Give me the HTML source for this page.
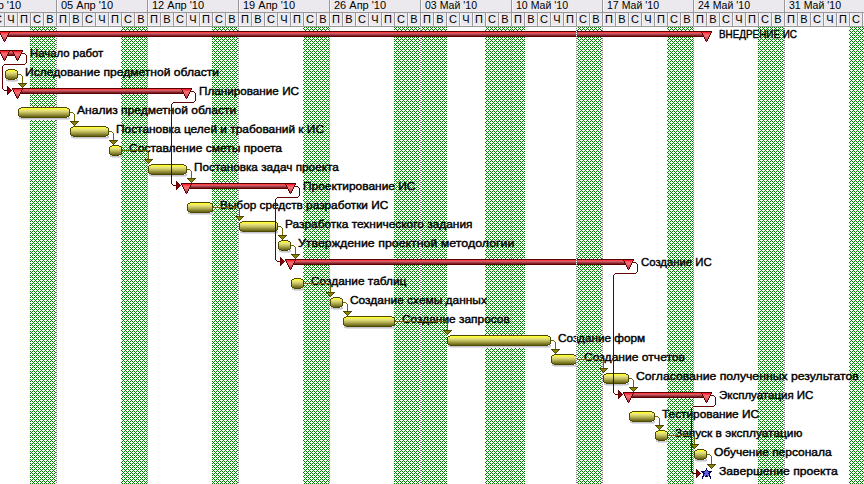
<!DOCTYPE html>
<html><head><meta charset="utf-8"><style>
html,body{margin:0;padding:0;background:#fff;overflow:hidden}
svg{display:block}
.h{font-family:"Liberation Sans",sans-serif;font-size:11px;fill:#000}
.l{font-family:"Liberation Sans",sans-serif;font-size:11px;fill:#000;stroke:#000;stroke-width:0.4px}
</style></head><body>
<svg width="864" height="484" viewBox="0 0 864 484">
<defs>
<pattern id="chk" width="4" height="4" patternUnits="userSpaceOnUse" x="0" y="0"><rect width="4" height="4" fill="#fff"/><rect x="3" y="0" width="1" height="1" fill="#008000"/><rect x="0" y="1" width="1" height="1" fill="#008000"/><rect x="2" y="1" width="1" height="1" fill="#008000"/><rect x="1" y="2" width="1" height="1" fill="#008000"/><rect x="0" y="3" width="1" height="1" fill="#008000"/><rect x="2" y="3" width="1" height="1" fill="#008000"/></pattern>
<pattern id="dotc" width="1" height="2" patternUnits="userSpaceOnUse" x="0" y="0"><rect width="1" height="2" fill="#fff"/><rect y="0" width="1" height="1" fill="#808080"/></pattern>
<pattern id="dotv" width="1" height="2" patternUnits="userSpaceOnUse" x="0" y="0"><rect width="1" height="2" fill="#fff"/><rect y="0" width="1" height="1" fill="#808080"/></pattern>
</defs>
<rect width="864" height="484" fill="#fff"/>
<g shape-rendering="crispEdges"><rect x="0" y="0" width="864" height="26" fill="#EBE9ED"/><rect x="0" y="12" width="864" height="1" fill="#989898"/><rect x="0" y="26" width="864" height="1" fill="#989898"/><rect x="0" y="25" width="864" height="1" fill="#F3F3F6"/><rect x="56" y="0" width="1" height="12" fill="#989898"/><rect x="57" y="0" width="1" height="11" fill="#F7F7F9"/><rect x="147" y="0" width="1" height="12" fill="#989898"/><rect x="148" y="0" width="1" height="11" fill="#F7F7F9"/><rect x="238" y="0" width="1" height="12" fill="#989898"/><rect x="239" y="0" width="1" height="11" fill="#F7F7F9"/><rect x="329" y="0" width="1" height="12" fill="#989898"/><rect x="330" y="0" width="1" height="11" fill="#F7F7F9"/><rect x="420" y="0" width="1" height="12" fill="#989898"/><rect x="421" y="0" width="1" height="11" fill="#F7F7F9"/><rect x="511" y="0" width="1" height="12" fill="#989898"/><rect x="512" y="0" width="1" height="11" fill="#F7F7F9"/><rect x="602" y="0" width="1" height="12" fill="#989898"/><rect x="603" y="0" width="1" height="11" fill="#F7F7F9"/><rect x="693" y="0" width="1" height="12" fill="#989898"/><rect x="694" y="0" width="1" height="11" fill="#F7F7F9"/><rect x="784" y="0" width="1" height="12" fill="#989898"/><rect x="785" y="0" width="1" height="11" fill="#F7F7F9"/><rect x="4" y="13" width="1" height="13" fill="#989898"/><rect x="5" y="13" width="1" height="12" fill="#F7F7F9"/><rect x="17" y="13" width="1" height="13" fill="#989898"/><rect x="18" y="13" width="1" height="12" fill="#F7F7F9"/><rect x="30" y="13" width="1" height="13" fill="#989898"/><rect x="31" y="13" width="1" height="12" fill="#F7F7F9"/><rect x="43" y="13" width="1" height="13" fill="#989898"/><rect x="44" y="13" width="1" height="12" fill="#F7F7F9"/><rect x="56" y="13" width="1" height="13" fill="#989898"/><rect x="57" y="13" width="1" height="12" fill="#F7F7F9"/><rect x="69" y="13" width="1" height="13" fill="#989898"/><rect x="70" y="13" width="1" height="12" fill="#F7F7F9"/><rect x="82" y="13" width="1" height="13" fill="#989898"/><rect x="83" y="13" width="1" height="12" fill="#F7F7F9"/><rect x="95" y="13" width="1" height="13" fill="#989898"/><rect x="96" y="13" width="1" height="12" fill="#F7F7F9"/><rect x="108" y="13" width="1" height="13" fill="#989898"/><rect x="109" y="13" width="1" height="12" fill="#F7F7F9"/><rect x="121" y="13" width="1" height="13" fill="#989898"/><rect x="122" y="13" width="1" height="12" fill="#F7F7F9"/><rect x="134" y="13" width="1" height="13" fill="#989898"/><rect x="135" y="13" width="1" height="12" fill="#F7F7F9"/><rect x="147" y="13" width="1" height="13" fill="#989898"/><rect x="148" y="13" width="1" height="12" fill="#F7F7F9"/><rect x="160" y="13" width="1" height="13" fill="#989898"/><rect x="161" y="13" width="1" height="12" fill="#F7F7F9"/><rect x="173" y="13" width="1" height="13" fill="#989898"/><rect x="174" y="13" width="1" height="12" fill="#F7F7F9"/><rect x="186" y="13" width="1" height="13" fill="#989898"/><rect x="187" y="13" width="1" height="12" fill="#F7F7F9"/><rect x="199" y="13" width="1" height="13" fill="#989898"/><rect x="200" y="13" width="1" height="12" fill="#F7F7F9"/><rect x="212" y="13" width="1" height="13" fill="#989898"/><rect x="213" y="13" width="1" height="12" fill="#F7F7F9"/><rect x="225" y="13" width="1" height="13" fill="#989898"/><rect x="226" y="13" width="1" height="12" fill="#F7F7F9"/><rect x="238" y="13" width="1" height="13" fill="#989898"/><rect x="239" y="13" width="1" height="12" fill="#F7F7F9"/><rect x="251" y="13" width="1" height="13" fill="#989898"/><rect x="252" y="13" width="1" height="12" fill="#F7F7F9"/><rect x="264" y="13" width="1" height="13" fill="#989898"/><rect x="265" y="13" width="1" height="12" fill="#F7F7F9"/><rect x="277" y="13" width="1" height="13" fill="#989898"/><rect x="278" y="13" width="1" height="12" fill="#F7F7F9"/><rect x="290" y="13" width="1" height="13" fill="#989898"/><rect x="291" y="13" width="1" height="12" fill="#F7F7F9"/><rect x="303" y="13" width="1" height="13" fill="#989898"/><rect x="304" y="13" width="1" height="12" fill="#F7F7F9"/><rect x="316" y="13" width="1" height="13" fill="#989898"/><rect x="317" y="13" width="1" height="12" fill="#F7F7F9"/><rect x="329" y="13" width="1" height="13" fill="#989898"/><rect x="330" y="13" width="1" height="12" fill="#F7F7F9"/><rect x="342" y="13" width="1" height="13" fill="#989898"/><rect x="343" y="13" width="1" height="12" fill="#F7F7F9"/><rect x="355" y="13" width="1" height="13" fill="#989898"/><rect x="356" y="13" width="1" height="12" fill="#F7F7F9"/><rect x="368" y="13" width="1" height="13" fill="#989898"/><rect x="369" y="13" width="1" height="12" fill="#F7F7F9"/><rect x="381" y="13" width="1" height="13" fill="#989898"/><rect x="382" y="13" width="1" height="12" fill="#F7F7F9"/><rect x="394" y="13" width="1" height="13" fill="#989898"/><rect x="395" y="13" width="1" height="12" fill="#F7F7F9"/><rect x="407" y="13" width="1" height="13" fill="#989898"/><rect x="408" y="13" width="1" height="12" fill="#F7F7F9"/><rect x="420" y="13" width="1" height="13" fill="#989898"/><rect x="421" y="13" width="1" height="12" fill="#F7F7F9"/><rect x="433" y="13" width="1" height="13" fill="#989898"/><rect x="434" y="13" width="1" height="12" fill="#F7F7F9"/><rect x="446" y="13" width="1" height="13" fill="#989898"/><rect x="447" y="13" width="1" height="12" fill="#F7F7F9"/><rect x="459" y="13" width="1" height="13" fill="#989898"/><rect x="460" y="13" width="1" height="12" fill="#F7F7F9"/><rect x="472" y="13" width="1" height="13" fill="#989898"/><rect x="473" y="13" width="1" height="12" fill="#F7F7F9"/><rect x="485" y="13" width="1" height="13" fill="#989898"/><rect x="486" y="13" width="1" height="12" fill="#F7F7F9"/><rect x="498" y="13" width="1" height="13" fill="#989898"/><rect x="499" y="13" width="1" height="12" fill="#F7F7F9"/><rect x="511" y="13" width="1" height="13" fill="#989898"/><rect x="512" y="13" width="1" height="12" fill="#F7F7F9"/><rect x="524" y="13" width="1" height="13" fill="#989898"/><rect x="525" y="13" width="1" height="12" fill="#F7F7F9"/><rect x="537" y="13" width="1" height="13" fill="#989898"/><rect x="538" y="13" width="1" height="12" fill="#F7F7F9"/><rect x="550" y="13" width="1" height="13" fill="#989898"/><rect x="551" y="13" width="1" height="12" fill="#F7F7F9"/><rect x="563" y="13" width="1" height="13" fill="#989898"/><rect x="564" y="13" width="1" height="12" fill="#F7F7F9"/><rect x="576" y="13" width="1" height="13" fill="#989898"/><rect x="577" y="13" width="1" height="12" fill="#F7F7F9"/><rect x="589" y="13" width="1" height="13" fill="#989898"/><rect x="590" y="13" width="1" height="12" fill="#F7F7F9"/><rect x="602" y="13" width="1" height="13" fill="#989898"/><rect x="603" y="13" width="1" height="12" fill="#F7F7F9"/><rect x="615" y="13" width="1" height="13" fill="#989898"/><rect x="616" y="13" width="1" height="12" fill="#F7F7F9"/><rect x="628" y="13" width="1" height="13" fill="#989898"/><rect x="629" y="13" width="1" height="12" fill="#F7F7F9"/><rect x="641" y="13" width="1" height="13" fill="#989898"/><rect x="642" y="13" width="1" height="12" fill="#F7F7F9"/><rect x="654" y="13" width="1" height="13" fill="#989898"/><rect x="655" y="13" width="1" height="12" fill="#F7F7F9"/><rect x="667" y="13" width="1" height="13" fill="#989898"/><rect x="668" y="13" width="1" height="12" fill="#F7F7F9"/><rect x="680" y="13" width="1" height="13" fill="#989898"/><rect x="681" y="13" width="1" height="12" fill="#F7F7F9"/><rect x="693" y="13" width="1" height="13" fill="#989898"/><rect x="694" y="13" width="1" height="12" fill="#F7F7F9"/><rect x="706" y="13" width="1" height="13" fill="#989898"/><rect x="707" y="13" width="1" height="12" fill="#F7F7F9"/><rect x="719" y="13" width="1" height="13" fill="#989898"/><rect x="720" y="13" width="1" height="12" fill="#F7F7F9"/><rect x="732" y="13" width="1" height="13" fill="#989898"/><rect x="733" y="13" width="1" height="12" fill="#F7F7F9"/><rect x="745" y="13" width="1" height="13" fill="#989898"/><rect x="746" y="13" width="1" height="12" fill="#F7F7F9"/><rect x="758" y="13" width="1" height="13" fill="#989898"/><rect x="759" y="13" width="1" height="12" fill="#F7F7F9"/><rect x="771" y="13" width="1" height="13" fill="#989898"/><rect x="772" y="13" width="1" height="12" fill="#F7F7F9"/><rect x="784" y="13" width="1" height="13" fill="#989898"/><rect x="785" y="13" width="1" height="12" fill="#F7F7F9"/><rect x="797" y="13" width="1" height="13" fill="#989898"/><rect x="798" y="13" width="1" height="12" fill="#F7F7F9"/><rect x="810" y="13" width="1" height="13" fill="#989898"/><rect x="811" y="13" width="1" height="12" fill="#F7F7F9"/><rect x="823" y="13" width="1" height="13" fill="#989898"/><rect x="824" y="13" width="1" height="12" fill="#F7F7F9"/><rect x="836" y="13" width="1" height="13" fill="#989898"/><rect x="837" y="13" width="1" height="12" fill="#F7F7F9"/><rect x="849" y="13" width="1" height="13" fill="#989898"/><rect x="850" y="13" width="1" height="12" fill="#F7F7F9"/><rect x="862" y="13" width="1" height="13" fill="#989898"/><rect x="863" y="13" width="1" height="12" fill="#F7F7F9"/><rect x="30" y="27" width="26" height="457" fill="url(#chk)"/><rect x="121" y="27" width="26" height="457" fill="url(#chk)"/><rect x="212" y="27" width="26" height="457" fill="url(#chk)"/><rect x="303" y="27" width="26" height="457" fill="url(#chk)"/><rect x="576" y="27" width="26" height="457" fill="url(#chk)"/><rect x="667" y="27" width="26" height="457" fill="url(#chk)"/><rect x="758" y="27" width="26" height="457" fill="url(#chk)"/><rect x="849" y="27" width="15" height="457" fill="url(#chk)"/><rect x="394" y="27" width="53" height="457" fill="url(#chk)"/><rect x="485" y="27" width="40" height="457" fill="url(#chk)"/><rect x="56" y="27" width="1" height="457" fill="url(#dotv)"/><rect x="147" y="27" width="1" height="457" fill="url(#dotv)"/><rect x="238" y="27" width="1" height="457" fill="url(#dotv)"/><rect x="329" y="27" width="1" height="457" fill="url(#dotv)"/><rect x="420" y="27" width="1" height="457" fill="url(#dotv)"/><rect x="511" y="27" width="1" height="457" fill="url(#dotv)"/><rect x="602" y="27" width="1" height="457" fill="url(#dotv)"/><rect x="693" y="27" width="1" height="457" fill="url(#dotv)"/><rect x="784" y="27" width="1" height="457" fill="url(#dotv)"/></g>
<g><text x="-33" y="9" class="h">29 Мар '10</text><text x="61" y="9" class="h">05 Апр '10</text><text x="152" y="9" class="h">12 Апр '10</text><text x="243" y="9" class="h">19 Апр '10</text><text x="334" y="9" class="h">26 Апр '10</text><text x="425" y="9" class="h" textLength="52" lengthAdjust="spacingAndGlyphs">03 Май '10</text><text x="516" y="9" class="h" textLength="52" lengthAdjust="spacingAndGlyphs">10 Май '10</text><text x="607" y="9" class="h" textLength="52" lengthAdjust="spacingAndGlyphs">17 Май '10</text><text x="698" y="9" class="h" textLength="52" lengthAdjust="spacingAndGlyphs">24 Май '10</text><text x="789" y="9" class="h" textLength="52" lengthAdjust="spacingAndGlyphs">31 Май '10</text><text x="-2" y="23" class="h" text-anchor="middle">С</text><text x="11" y="23" class="h" text-anchor="middle">Ч</text><text x="24" y="23" class="h" text-anchor="middle">П</text><text x="37" y="23" class="h" text-anchor="middle">С</text><text x="50" y="23" class="h" text-anchor="middle">В</text><text x="63" y="23" class="h" text-anchor="middle">П</text><text x="76" y="23" class="h" text-anchor="middle">В</text><text x="89" y="23" class="h" text-anchor="middle">С</text><text x="102" y="23" class="h" text-anchor="middle">Ч</text><text x="115" y="23" class="h" text-anchor="middle">П</text><text x="128" y="23" class="h" text-anchor="middle">С</text><text x="141" y="23" class="h" text-anchor="middle">В</text><text x="154" y="23" class="h" text-anchor="middle">П</text><text x="167" y="23" class="h" text-anchor="middle">В</text><text x="180" y="23" class="h" text-anchor="middle">С</text><text x="193" y="23" class="h" text-anchor="middle">Ч</text><text x="206" y="23" class="h" text-anchor="middle">П</text><text x="219" y="23" class="h" text-anchor="middle">С</text><text x="232" y="23" class="h" text-anchor="middle">В</text><text x="245" y="23" class="h" text-anchor="middle">П</text><text x="258" y="23" class="h" text-anchor="middle">В</text><text x="271" y="23" class="h" text-anchor="middle">С</text><text x="284" y="23" class="h" text-anchor="middle">Ч</text><text x="297" y="23" class="h" text-anchor="middle">П</text><text x="310" y="23" class="h" text-anchor="middle">С</text><text x="323" y="23" class="h" text-anchor="middle">В</text><text x="336" y="23" class="h" text-anchor="middle">П</text><text x="349" y="23" class="h" text-anchor="middle">В</text><text x="362" y="23" class="h" text-anchor="middle">С</text><text x="375" y="23" class="h" text-anchor="middle">Ч</text><text x="388" y="23" class="h" text-anchor="middle">П</text><text x="401" y="23" class="h" text-anchor="middle">С</text><text x="414" y="23" class="h" text-anchor="middle">В</text><text x="427" y="23" class="h" text-anchor="middle">П</text><text x="440" y="23" class="h" text-anchor="middle">В</text><text x="453" y="23" class="h" text-anchor="middle">С</text><text x="466" y="23" class="h" text-anchor="middle">Ч</text><text x="479" y="23" class="h" text-anchor="middle">П</text><text x="492" y="23" class="h" text-anchor="middle">С</text><text x="505" y="23" class="h" text-anchor="middle">В</text><text x="518" y="23" class="h" text-anchor="middle">П</text><text x="531" y="23" class="h" text-anchor="middle">В</text><text x="544" y="23" class="h" text-anchor="middle">С</text><text x="557" y="23" class="h" text-anchor="middle">Ч</text><text x="570" y="23" class="h" text-anchor="middle">П</text><text x="583" y="23" class="h" text-anchor="middle">С</text><text x="596" y="23" class="h" text-anchor="middle">В</text><text x="609" y="23" class="h" text-anchor="middle">П</text><text x="622" y="23" class="h" text-anchor="middle">В</text><text x="635" y="23" class="h" text-anchor="middle">С</text><text x="648" y="23" class="h" text-anchor="middle">Ч</text><text x="661" y="23" class="h" text-anchor="middle">П</text><text x="674" y="23" class="h" text-anchor="middle">С</text><text x="687" y="23" class="h" text-anchor="middle">В</text><text x="700" y="23" class="h" text-anchor="middle">П</text><text x="713" y="23" class="h" text-anchor="middle">В</text><text x="726" y="23" class="h" text-anchor="middle">С</text><text x="739" y="23" class="h" text-anchor="middle">Ч</text><text x="752" y="23" class="h" text-anchor="middle">П</text><text x="765" y="23" class="h" text-anchor="middle">С</text><text x="778" y="23" class="h" text-anchor="middle">В</text><text x="791" y="23" class="h" text-anchor="middle">П</text><text x="804" y="23" class="h" text-anchor="middle">В</text><text x="817" y="23" class="h" text-anchor="middle">С</text><text x="830" y="23" class="h" text-anchor="middle">Ч</text><text x="843" y="23" class="h" text-anchor="middle">П</text><text x="856" y="23" class="h" text-anchor="middle">С</text><text x="869" y="23" class="h" text-anchor="middle">В</text></g>
<g><text x="719" y="38" class="l" textLength="78" lengthAdjust="spacingAndGlyphs">ВНЕДРЕНИЕ ИС</text><text x="30" y="57" class="l" textLength="73.3" lengthAdjust="spacingAndGlyphs">Начало работ</text><text x="25" y="76" class="l" textLength="194" lengthAdjust="spacingAndGlyphs">Иследование предметной области</text><text x="199" y="95" class="l" textLength="100" lengthAdjust="spacingAndGlyphs">Планирование ИС</text><text x="77" y="114" class="l" textLength="159.25" lengthAdjust="spacingAndGlyphs">Анализ предметной области</text><text x="116" y="133" class="l" textLength="208" lengthAdjust="spacingAndGlyphs">Постановка целей и трабований к ИС</text><text x="129" y="152" class="l" textLength="153" lengthAdjust="spacingAndGlyphs">Составление сметы проета</text><text x="194" y="171" class="l" textLength="144.75" lengthAdjust="spacingAndGlyphs">Постановка задач проекта</text><text x="303" y="190" class="l" textLength="112.5" lengthAdjust="spacingAndGlyphs">Проектирование ИС</text><text x="220" y="209" class="l" textLength="168.25" lengthAdjust="spacingAndGlyphs">Выбор средств разработки ИС</text><text x="285" y="228" class="l" textLength="187.5" lengthAdjust="spacingAndGlyphs">Разработка технического задания</text><text x="298" y="247" class="l" textLength="216.4" lengthAdjust="spacingAndGlyphs">Утверждение проектной методологии</text><text x="641" y="266" class="l" textLength="70.7" lengthAdjust="spacingAndGlyphs">Создание ИС</text><text x="311" y="285" class="l" textLength="95.35" lengthAdjust="spacingAndGlyphs">Создание таблиц</text><text x="350" y="304" class="l" textLength="136.9" lengthAdjust="spacingAndGlyphs">Создание схемы данных</text><text x="402" y="323" class="l" textLength="107.8" lengthAdjust="spacingAndGlyphs">Создание запросов</text><text x="558" y="342" class="l" textLength="87.2" lengthAdjust="spacingAndGlyphs">Создание форм</text><text x="584" y="361" class="l" textLength="101" lengthAdjust="spacingAndGlyphs">Создание отчетов</text><text x="636" y="380" class="l" textLength="222.8" lengthAdjust="spacingAndGlyphs">Согласование полученных результатов</text><text x="719" y="399" class="l" textLength="94.4" lengthAdjust="spacingAndGlyphs">Эксплуатация ИС</text><text x="662" y="418" class="l" textLength="97" lengthAdjust="spacingAndGlyphs">Тестирование ИС</text><text x="675" y="437" class="l" textLength="127.4" lengthAdjust="spacingAndGlyphs">Запуск в эксплуатацию</text><text x="714" y="456" class="l" textLength="117.7" lengthAdjust="spacingAndGlyphs">Обучение персонала</text><text x="719" y="475" class="l" textLength="118.75" lengthAdjust="spacingAndGlyphs">Завершение проекта</text></g>
<g shape-rendering="crispEdges"><rect x="6" y="79" width="2" height="1" fill="#C6C6CE"/><rect x="16" y="79" width="2" height="1" fill="#C6C6CE"/><rect x="6" y="80" width="12" height="1" fill="#C6C6CE"/><rect x="8" y="81" width="9" height="1" fill="#DEDEE4"/><rect x="19" y="117" width="2" height="1" fill="#C6C6CE"/><rect x="68" y="117" width="2" height="1" fill="#C6C6CE"/><rect x="19" y="118" width="51" height="1" fill="#C6C6CE"/><rect x="21" y="119" width="48" height="1" fill="#DEDEE4"/><rect x="71" y="136" width="2" height="1" fill="#C6C6CE"/><rect x="107" y="136" width="2" height="1" fill="#C6C6CE"/><rect x="71" y="137" width="38" height="1" fill="#C6C6CE"/><rect x="73" y="138" width="35" height="1" fill="#DEDEE4"/><rect x="110" y="155" width="2" height="1" fill="#C6C6CE"/><rect x="120" y="155" width="2" height="1" fill="#C6C6CE"/><rect x="110" y="156" width="12" height="1" fill="#C6C6CE"/><rect x="112" y="157" width="9" height="1" fill="#DEDEE4"/><rect x="149" y="174" width="2" height="1" fill="#C6C6CE"/><rect x="185" y="174" width="2" height="1" fill="#C6C6CE"/><rect x="149" y="175" width="38" height="1" fill="#C6C6CE"/><rect x="151" y="176" width="35" height="1" fill="#DEDEE4"/><rect x="188" y="212" width="2" height="1" fill="#C6C6CE"/><rect x="211" y="212" width="2" height="1" fill="#C6C6CE"/><rect x="188" y="213" width="25" height="1" fill="#C6C6CE"/><rect x="190" y="214" width="22" height="1" fill="#DEDEE4"/><rect x="240" y="231" width="2" height="1" fill="#C6C6CE"/><rect x="276" y="231" width="2" height="1" fill="#C6C6CE"/><rect x="240" y="232" width="38" height="1" fill="#C6C6CE"/><rect x="242" y="233" width="35" height="1" fill="#DEDEE4"/><rect x="279" y="250" width="2" height="1" fill="#C6C6CE"/><rect x="289" y="250" width="2" height="1" fill="#C6C6CE"/><rect x="279" y="251" width="12" height="1" fill="#C6C6CE"/><rect x="281" y="252" width="9" height="1" fill="#DEDEE4"/><rect x="292" y="288" width="2" height="1" fill="#C6C6CE"/><rect x="302" y="288" width="2" height="1" fill="#C6C6CE"/><rect x="292" y="289" width="12" height="1" fill="#C6C6CE"/><rect x="294" y="290" width="9" height="1" fill="#DEDEE4"/><rect x="331" y="307" width="2" height="1" fill="#C6C6CE"/><rect x="341" y="307" width="2" height="1" fill="#C6C6CE"/><rect x="331" y="308" width="12" height="1" fill="#C6C6CE"/><rect x="333" y="309" width="9" height="1" fill="#DEDEE4"/><rect x="344" y="326" width="2" height="1" fill="#C6C6CE"/><rect x="393" y="326" width="2" height="1" fill="#C6C6CE"/><rect x="344" y="327" width="51" height="1" fill="#C6C6CE"/><rect x="346" y="328" width="48" height="1" fill="#DEDEE4"/><rect x="448" y="345" width="2" height="1" fill="#C6C6CE"/><rect x="549" y="345" width="2" height="1" fill="#C6C6CE"/><rect x="448" y="346" width="103" height="1" fill="#C6C6CE"/><rect x="450" y="347" width="100" height="1" fill="#DEDEE4"/><rect x="552" y="364" width="2" height="1" fill="#C6C6CE"/><rect x="575" y="364" width="2" height="1" fill="#C6C6CE"/><rect x="552" y="365" width="25" height="1" fill="#C6C6CE"/><rect x="554" y="366" width="22" height="1" fill="#DEDEE4"/><rect x="604" y="383" width="2" height="1" fill="#C6C6CE"/><rect x="627" y="383" width="2" height="1" fill="#C6C6CE"/><rect x="604" y="384" width="25" height="1" fill="#C6C6CE"/><rect x="606" y="385" width="22" height="1" fill="#DEDEE4"/><rect x="630" y="421" width="2" height="1" fill="#C6C6CE"/><rect x="653" y="421" width="2" height="1" fill="#C6C6CE"/><rect x="630" y="422" width="25" height="1" fill="#C6C6CE"/><rect x="632" y="423" width="22" height="1" fill="#DEDEE4"/><rect x="656" y="440" width="2" height="1" fill="#C6C6CE"/><rect x="666" y="440" width="2" height="1" fill="#C6C6CE"/><rect x="656" y="441" width="12" height="1" fill="#C6C6CE"/><rect x="658" y="442" width="9" height="1" fill="#DEDEE4"/><rect x="695" y="459" width="2" height="1" fill="#C6C6CE"/><rect x="705" y="459" width="2" height="1" fill="#C6C6CE"/><rect x="695" y="460" width="12" height="1" fill="#C6C6CE"/><rect x="697" y="461" width="9" height="1" fill="#DEDEE4"/><rect x="4" y="31" width="703" height="1" fill="#560000"/><rect x="4" y="32" width="703" height="1" fill="#FF4048"/><rect x="4" y="33" width="703" height="1" fill="#D05A62"/><rect x="4" y="34" width="703" height="1" fill="#A83E46"/><rect x="4" y="35" width="703" height="1" fill="#802028"/><rect x="4" y="36" width="703" height="1" fill="#560000"/><rect x="-1" y="31" width="11" height="1" fill="#560000"/><rect x="-1" y="32" width="1" height="1" fill="#560000"/><rect x="9" y="32" width="1" height="1" fill="#560000"/><rect x="0" y="32" width="9" height="1" fill="#FF2030"/><rect x="0" y="33" width="1" height="1" fill="#560000"/><rect x="8" y="33" width="1" height="1" fill="#560000"/><rect x="1" y="33" width="7" height="1" fill="#FF4452"/><rect x="0" y="34" width="1" height="1" fill="#560000"/><rect x="8" y="34" width="1" height="1" fill="#560000"/><rect x="1" y="34" width="7" height="1" fill="#F86068"/><rect x="1" y="35" width="1" height="1" fill="#560000"/><rect x="7" y="35" width="1" height="1" fill="#560000"/><rect x="2" y="35" width="5" height="1" fill="#F07078"/><rect x="1" y="36" width="1" height="1" fill="#560000"/><rect x="7" y="36" width="1" height="1" fill="#560000"/><rect x="2" y="36" width="5" height="1" fill="#E86870"/><rect x="2" y="37" width="1" height="1" fill="#560000"/><rect x="6" y="37" width="1" height="1" fill="#560000"/><rect x="3" y="37" width="3" height="1" fill="#DC5C66"/><rect x="2" y="38" width="1" height="1" fill="#560000"/><rect x="6" y="38" width="1" height="1" fill="#560000"/><rect x="3" y="38" width="3" height="1" fill="#D0525E"/><rect x="3" y="39" width="1" height="1" fill="#560000"/><rect x="5" y="39" width="1" height="1" fill="#560000"/><rect x="4" y="39" width="1" height="1" fill="#C04452"/><rect x="3" y="40" width="1" height="1" fill="#560000"/><rect x="5" y="40" width="1" height="1" fill="#560000"/><rect x="4" y="40" width="1" height="1" fill="#B03848"/><rect x="4" y="41" width="1" height="1" fill="#560000"/><rect x="701" y="31" width="11" height="1" fill="#560000"/><rect x="701" y="32" width="1" height="1" fill="#560000"/><rect x="711" y="32" width="1" height="1" fill="#560000"/><rect x="702" y="32" width="9" height="1" fill="#FF2030"/><rect x="702" y="33" width="1" height="1" fill="#560000"/><rect x="710" y="33" width="1" height="1" fill="#560000"/><rect x="703" y="33" width="7" height="1" fill="#FF4452"/><rect x="702" y="34" width="1" height="1" fill="#560000"/><rect x="710" y="34" width="1" height="1" fill="#560000"/><rect x="703" y="34" width="7" height="1" fill="#F86068"/><rect x="703" y="35" width="1" height="1" fill="#560000"/><rect x="709" y="35" width="1" height="1" fill="#560000"/><rect x="704" y="35" width="5" height="1" fill="#F07078"/><rect x="703" y="36" width="1" height="1" fill="#560000"/><rect x="709" y="36" width="1" height="1" fill="#560000"/><rect x="704" y="36" width="5" height="1" fill="#E86870"/><rect x="704" y="37" width="1" height="1" fill="#560000"/><rect x="708" y="37" width="1" height="1" fill="#560000"/><rect x="705" y="37" width="3" height="1" fill="#DC5C66"/><rect x="704" y="38" width="1" height="1" fill="#560000"/><rect x="708" y="38" width="1" height="1" fill="#560000"/><rect x="705" y="38" width="3" height="1" fill="#D0525E"/><rect x="705" y="39" width="1" height="1" fill="#560000"/><rect x="707" y="39" width="1" height="1" fill="#560000"/><rect x="706" y="39" width="1" height="1" fill="#C04452"/><rect x="705" y="40" width="1" height="1" fill="#560000"/><rect x="707" y="40" width="1" height="1" fill="#560000"/><rect x="706" y="40" width="1" height="1" fill="#B03848"/><rect x="706" y="41" width="1" height="1" fill="#560000"/><rect x="4" y="50" width="14" height="1" fill="#560000"/><rect x="4" y="51" width="14" height="1" fill="#FF4048"/><rect x="4" y="52" width="14" height="1" fill="#D05A62"/><rect x="4" y="53" width="14" height="1" fill="#A83E46"/><rect x="4" y="54" width="14" height="1" fill="#802028"/><rect x="4" y="55" width="14" height="1" fill="#560000"/><rect x="-1" y="50" width="11" height="1" fill="#560000"/><rect x="-1" y="51" width="1" height="1" fill="#560000"/><rect x="9" y="51" width="1" height="1" fill="#560000"/><rect x="0" y="51" width="9" height="1" fill="#FF2030"/><rect x="0" y="52" width="1" height="1" fill="#560000"/><rect x="8" y="52" width="1" height="1" fill="#560000"/><rect x="1" y="52" width="7" height="1" fill="#FF4452"/><rect x="0" y="53" width="1" height="1" fill="#560000"/><rect x="8" y="53" width="1" height="1" fill="#560000"/><rect x="1" y="53" width="7" height="1" fill="#F86068"/><rect x="1" y="54" width="1" height="1" fill="#560000"/><rect x="7" y="54" width="1" height="1" fill="#560000"/><rect x="2" y="54" width="5" height="1" fill="#F07078"/><rect x="1" y="55" width="1" height="1" fill="#560000"/><rect x="7" y="55" width="1" height="1" fill="#560000"/><rect x="2" y="55" width="5" height="1" fill="#E86870"/><rect x="2" y="56" width="1" height="1" fill="#560000"/><rect x="6" y="56" width="1" height="1" fill="#560000"/><rect x="3" y="56" width="3" height="1" fill="#DC5C66"/><rect x="2" y="57" width="1" height="1" fill="#560000"/><rect x="6" y="57" width="1" height="1" fill="#560000"/><rect x="3" y="57" width="3" height="1" fill="#D0525E"/><rect x="3" y="58" width="1" height="1" fill="#560000"/><rect x="5" y="58" width="1" height="1" fill="#560000"/><rect x="4" y="58" width="1" height="1" fill="#C04452"/><rect x="3" y="59" width="1" height="1" fill="#560000"/><rect x="5" y="59" width="1" height="1" fill="#560000"/><rect x="4" y="59" width="1" height="1" fill="#B03848"/><rect x="4" y="60" width="1" height="1" fill="#560000"/><rect x="12" y="50" width="11" height="1" fill="#560000"/><rect x="12" y="51" width="1" height="1" fill="#560000"/><rect x="22" y="51" width="1" height="1" fill="#560000"/><rect x="13" y="51" width="9" height="1" fill="#FF2030"/><rect x="13" y="52" width="1" height="1" fill="#560000"/><rect x="21" y="52" width="1" height="1" fill="#560000"/><rect x="14" y="52" width="7" height="1" fill="#FF4452"/><rect x="13" y="53" width="1" height="1" fill="#560000"/><rect x="21" y="53" width="1" height="1" fill="#560000"/><rect x="14" y="53" width="7" height="1" fill="#F86068"/><rect x="14" y="54" width="1" height="1" fill="#560000"/><rect x="20" y="54" width="1" height="1" fill="#560000"/><rect x="15" y="54" width="5" height="1" fill="#F07078"/><rect x="14" y="55" width="1" height="1" fill="#560000"/><rect x="20" y="55" width="1" height="1" fill="#560000"/><rect x="15" y="55" width="5" height="1" fill="#E86870"/><rect x="15" y="56" width="1" height="1" fill="#560000"/><rect x="19" y="56" width="1" height="1" fill="#560000"/><rect x="16" y="56" width="3" height="1" fill="#DC5C66"/><rect x="15" y="57" width="1" height="1" fill="#560000"/><rect x="19" y="57" width="1" height="1" fill="#560000"/><rect x="16" y="57" width="3" height="1" fill="#D0525E"/><rect x="16" y="58" width="1" height="1" fill="#560000"/><rect x="18" y="58" width="1" height="1" fill="#560000"/><rect x="17" y="58" width="1" height="1" fill="#C04452"/><rect x="16" y="59" width="1" height="1" fill="#560000"/><rect x="18" y="59" width="1" height="1" fill="#560000"/><rect x="17" y="59" width="1" height="1" fill="#B03848"/><rect x="17" y="60" width="1" height="1" fill="#560000"/><rect x="8" y="69" width="7" height="1" fill="#4C4800"/><rect x="6" y="70" width="2" height="1" fill="#4C4800"/><rect x="15" y="70" width="2" height="1" fill="#4C4800"/><rect x="8" y="70" width="7" height="1" fill="#FFFF33"/><rect x="5" y="71" width="1" height="7" fill="#4C4800"/><rect x="6" y="71" width="11" height="1" fill="#F2EE58"/><rect x="6" y="72" width="11" height="1" fill="#E4E07A"/><rect x="6" y="73" width="11" height="1" fill="#D6D270"/><rect x="6" y="74" width="11" height="1" fill="#C4C060"/><rect x="6" y="75" width="11" height="1" fill="#B0AC50"/><rect x="6" y="76" width="11" height="1" fill="#9A9640"/><rect x="6" y="77" width="11" height="1" fill="#848030"/><rect x="17" y="71" width="1" height="7" fill="#4C4800"/><rect x="6" y="78" width="2" height="1" fill="#4C4800"/><rect x="15" y="78" width="2" height="1" fill="#4C4800"/><rect x="8" y="78" width="7" height="1" fill="#6E6A1C"/><rect x="8" y="79" width="7" height="1" fill="#4C4800"/><rect x="17" y="88" width="170" height="1" fill="#560000"/><rect x="17" y="89" width="170" height="1" fill="#FF4048"/><rect x="17" y="90" width="170" height="1" fill="#D05A62"/><rect x="17" y="91" width="170" height="1" fill="#A83E46"/><rect x="17" y="92" width="170" height="1" fill="#802028"/><rect x="17" y="93" width="170" height="1" fill="#560000"/><rect x="12" y="88" width="11" height="1" fill="#560000"/><rect x="12" y="89" width="1" height="1" fill="#560000"/><rect x="22" y="89" width="1" height="1" fill="#560000"/><rect x="13" y="89" width="9" height="1" fill="#FF2030"/><rect x="13" y="90" width="1" height="1" fill="#560000"/><rect x="21" y="90" width="1" height="1" fill="#560000"/><rect x="14" y="90" width="7" height="1" fill="#FF4452"/><rect x="13" y="91" width="1" height="1" fill="#560000"/><rect x="21" y="91" width="1" height="1" fill="#560000"/><rect x="14" y="91" width="7" height="1" fill="#F86068"/><rect x="14" y="92" width="1" height="1" fill="#560000"/><rect x="20" y="92" width="1" height="1" fill="#560000"/><rect x="15" y="92" width="5" height="1" fill="#F07078"/><rect x="14" y="93" width="1" height="1" fill="#560000"/><rect x="20" y="93" width="1" height="1" fill="#560000"/><rect x="15" y="93" width="5" height="1" fill="#E86870"/><rect x="15" y="94" width="1" height="1" fill="#560000"/><rect x="19" y="94" width="1" height="1" fill="#560000"/><rect x="16" y="94" width="3" height="1" fill="#DC5C66"/><rect x="15" y="95" width="1" height="1" fill="#560000"/><rect x="19" y="95" width="1" height="1" fill="#560000"/><rect x="16" y="95" width="3" height="1" fill="#D0525E"/><rect x="16" y="96" width="1" height="1" fill="#560000"/><rect x="18" y="96" width="1" height="1" fill="#560000"/><rect x="17" y="96" width="1" height="1" fill="#C04452"/><rect x="16" y="97" width="1" height="1" fill="#560000"/><rect x="18" y="97" width="1" height="1" fill="#560000"/><rect x="17" y="97" width="1" height="1" fill="#B03848"/><rect x="17" y="98" width="1" height="1" fill="#560000"/><rect x="181" y="88" width="11" height="1" fill="#560000"/><rect x="181" y="89" width="1" height="1" fill="#560000"/><rect x="191" y="89" width="1" height="1" fill="#560000"/><rect x="182" y="89" width="9" height="1" fill="#FF2030"/><rect x="182" y="90" width="1" height="1" fill="#560000"/><rect x="190" y="90" width="1" height="1" fill="#560000"/><rect x="183" y="90" width="7" height="1" fill="#FF4452"/><rect x="182" y="91" width="1" height="1" fill="#560000"/><rect x="190" y="91" width="1" height="1" fill="#560000"/><rect x="183" y="91" width="7" height="1" fill="#F86068"/><rect x="183" y="92" width="1" height="1" fill="#560000"/><rect x="189" y="92" width="1" height="1" fill="#560000"/><rect x="184" y="92" width="5" height="1" fill="#F07078"/><rect x="183" y="93" width="1" height="1" fill="#560000"/><rect x="189" y="93" width="1" height="1" fill="#560000"/><rect x="184" y="93" width="5" height="1" fill="#E86870"/><rect x="184" y="94" width="1" height="1" fill="#560000"/><rect x="188" y="94" width="1" height="1" fill="#560000"/><rect x="185" y="94" width="3" height="1" fill="#DC5C66"/><rect x="184" y="95" width="1" height="1" fill="#560000"/><rect x="188" y="95" width="1" height="1" fill="#560000"/><rect x="185" y="95" width="3" height="1" fill="#D0525E"/><rect x="185" y="96" width="1" height="1" fill="#560000"/><rect x="187" y="96" width="1" height="1" fill="#560000"/><rect x="186" y="96" width="1" height="1" fill="#C04452"/><rect x="185" y="97" width="1" height="1" fill="#560000"/><rect x="187" y="97" width="1" height="1" fill="#560000"/><rect x="186" y="97" width="1" height="1" fill="#B03848"/><rect x="186" y="98" width="1" height="1" fill="#560000"/><rect x="21" y="107" width="46" height="1" fill="#4C4800"/><rect x="19" y="108" width="2" height="1" fill="#4C4800"/><rect x="67" y="108" width="2" height="1" fill="#4C4800"/><rect x="21" y="108" width="46" height="1" fill="#FFFF33"/><rect x="18" y="109" width="1" height="7" fill="#4C4800"/><rect x="19" y="109" width="50" height="1" fill="#F2EE58"/><rect x="19" y="110" width="50" height="1" fill="#E4E07A"/><rect x="19" y="111" width="50" height="1" fill="#D6D270"/><rect x="19" y="112" width="50" height="1" fill="#C4C060"/><rect x="19" y="113" width="50" height="1" fill="#B0AC50"/><rect x="19" y="114" width="50" height="1" fill="#9A9640"/><rect x="19" y="115" width="50" height="1" fill="#848030"/><rect x="69" y="109" width="1" height="7" fill="#4C4800"/><rect x="19" y="116" width="2" height="1" fill="#4C4800"/><rect x="67" y="116" width="2" height="1" fill="#4C4800"/><rect x="21" y="116" width="46" height="1" fill="#6E6A1C"/><rect x="21" y="117" width="46" height="1" fill="#4C4800"/><rect x="73" y="126" width="33" height="1" fill="#4C4800"/><rect x="71" y="127" width="2" height="1" fill="#4C4800"/><rect x="106" y="127" width="2" height="1" fill="#4C4800"/><rect x="73" y="127" width="33" height="1" fill="#FFFF33"/><rect x="70" y="128" width="1" height="7" fill="#4C4800"/><rect x="71" y="128" width="37" height="1" fill="#F2EE58"/><rect x="71" y="129" width="37" height="1" fill="#E4E07A"/><rect x="71" y="130" width="37" height="1" fill="#D6D270"/><rect x="71" y="131" width="37" height="1" fill="#C4C060"/><rect x="71" y="132" width="37" height="1" fill="#B0AC50"/><rect x="71" y="133" width="37" height="1" fill="#9A9640"/><rect x="71" y="134" width="37" height="1" fill="#848030"/><rect x="108" y="128" width="1" height="7" fill="#4C4800"/><rect x="71" y="135" width="2" height="1" fill="#4C4800"/><rect x="106" y="135" width="2" height="1" fill="#4C4800"/><rect x="73" y="135" width="33" height="1" fill="#6E6A1C"/><rect x="73" y="136" width="33" height="1" fill="#4C4800"/><rect x="112" y="145" width="7" height="1" fill="#4C4800"/><rect x="110" y="146" width="2" height="1" fill="#4C4800"/><rect x="119" y="146" width="2" height="1" fill="#4C4800"/><rect x="112" y="146" width="7" height="1" fill="#FFFF33"/><rect x="109" y="147" width="1" height="7" fill="#4C4800"/><rect x="110" y="147" width="11" height="1" fill="#F2EE58"/><rect x="110" y="148" width="11" height="1" fill="#E4E07A"/><rect x="110" y="149" width="11" height="1" fill="#D6D270"/><rect x="110" y="150" width="11" height="1" fill="#C4C060"/><rect x="110" y="151" width="11" height="1" fill="#B0AC50"/><rect x="110" y="152" width="11" height="1" fill="#9A9640"/><rect x="110" y="153" width="11" height="1" fill="#848030"/><rect x="121" y="147" width="1" height="7" fill="#4C4800"/><rect x="110" y="154" width="2" height="1" fill="#4C4800"/><rect x="119" y="154" width="2" height="1" fill="#4C4800"/><rect x="112" y="154" width="7" height="1" fill="#6E6A1C"/><rect x="112" y="155" width="7" height="1" fill="#4C4800"/><rect x="151" y="164" width="33" height="1" fill="#4C4800"/><rect x="149" y="165" width="2" height="1" fill="#4C4800"/><rect x="184" y="165" width="2" height="1" fill="#4C4800"/><rect x="151" y="165" width="33" height="1" fill="#FFFF33"/><rect x="148" y="166" width="1" height="7" fill="#4C4800"/><rect x="149" y="166" width="37" height="1" fill="#F2EE58"/><rect x="149" y="167" width="37" height="1" fill="#E4E07A"/><rect x="149" y="168" width="37" height="1" fill="#D6D270"/><rect x="149" y="169" width="37" height="1" fill="#C4C060"/><rect x="149" y="170" width="37" height="1" fill="#B0AC50"/><rect x="149" y="171" width="37" height="1" fill="#9A9640"/><rect x="149" y="172" width="37" height="1" fill="#848030"/><rect x="186" y="166" width="1" height="7" fill="#4C4800"/><rect x="149" y="173" width="2" height="1" fill="#4C4800"/><rect x="184" y="173" width="2" height="1" fill="#4C4800"/><rect x="151" y="173" width="33" height="1" fill="#6E6A1C"/><rect x="151" y="174" width="33" height="1" fill="#4C4800"/><rect x="186" y="183" width="105" height="1" fill="#560000"/><rect x="186" y="184" width="105" height="1" fill="#FF4048"/><rect x="186" y="185" width="105" height="1" fill="#D05A62"/><rect x="186" y="186" width="105" height="1" fill="#A83E46"/><rect x="186" y="187" width="105" height="1" fill="#802028"/><rect x="186" y="188" width="105" height="1" fill="#560000"/><rect x="181" y="183" width="11" height="1" fill="#560000"/><rect x="181" y="184" width="1" height="1" fill="#560000"/><rect x="191" y="184" width="1" height="1" fill="#560000"/><rect x="182" y="184" width="9" height="1" fill="#FF2030"/><rect x="182" y="185" width="1" height="1" fill="#560000"/><rect x="190" y="185" width="1" height="1" fill="#560000"/><rect x="183" y="185" width="7" height="1" fill="#FF4452"/><rect x="182" y="186" width="1" height="1" fill="#560000"/><rect x="190" y="186" width="1" height="1" fill="#560000"/><rect x="183" y="186" width="7" height="1" fill="#F86068"/><rect x="183" y="187" width="1" height="1" fill="#560000"/><rect x="189" y="187" width="1" height="1" fill="#560000"/><rect x="184" y="187" width="5" height="1" fill="#F07078"/><rect x="183" y="188" width="1" height="1" fill="#560000"/><rect x="189" y="188" width="1" height="1" fill="#560000"/><rect x="184" y="188" width="5" height="1" fill="#E86870"/><rect x="184" y="189" width="1" height="1" fill="#560000"/><rect x="188" y="189" width="1" height="1" fill="#560000"/><rect x="185" y="189" width="3" height="1" fill="#DC5C66"/><rect x="184" y="190" width="1" height="1" fill="#560000"/><rect x="188" y="190" width="1" height="1" fill="#560000"/><rect x="185" y="190" width="3" height="1" fill="#D0525E"/><rect x="185" y="191" width="1" height="1" fill="#560000"/><rect x="187" y="191" width="1" height="1" fill="#560000"/><rect x="186" y="191" width="1" height="1" fill="#C04452"/><rect x="185" y="192" width="1" height="1" fill="#560000"/><rect x="187" y="192" width="1" height="1" fill="#560000"/><rect x="186" y="192" width="1" height="1" fill="#B03848"/><rect x="186" y="193" width="1" height="1" fill="#560000"/><rect x="285" y="183" width="11" height="1" fill="#560000"/><rect x="285" y="184" width="1" height="1" fill="#560000"/><rect x="295" y="184" width="1" height="1" fill="#560000"/><rect x="286" y="184" width="9" height="1" fill="#FF2030"/><rect x="286" y="185" width="1" height="1" fill="#560000"/><rect x="294" y="185" width="1" height="1" fill="#560000"/><rect x="287" y="185" width="7" height="1" fill="#FF4452"/><rect x="286" y="186" width="1" height="1" fill="#560000"/><rect x="294" y="186" width="1" height="1" fill="#560000"/><rect x="287" y="186" width="7" height="1" fill="#F86068"/><rect x="287" y="187" width="1" height="1" fill="#560000"/><rect x="293" y="187" width="1" height="1" fill="#560000"/><rect x="288" y="187" width="5" height="1" fill="#F07078"/><rect x="287" y="188" width="1" height="1" fill="#560000"/><rect x="293" y="188" width="1" height="1" fill="#560000"/><rect x="288" y="188" width="5" height="1" fill="#E86870"/><rect x="288" y="189" width="1" height="1" fill="#560000"/><rect x="292" y="189" width="1" height="1" fill="#560000"/><rect x="289" y="189" width="3" height="1" fill="#DC5C66"/><rect x="288" y="190" width="1" height="1" fill="#560000"/><rect x="292" y="190" width="1" height="1" fill="#560000"/><rect x="289" y="190" width="3" height="1" fill="#D0525E"/><rect x="289" y="191" width="1" height="1" fill="#560000"/><rect x="291" y="191" width="1" height="1" fill="#560000"/><rect x="290" y="191" width="1" height="1" fill="#C04452"/><rect x="289" y="192" width="1" height="1" fill="#560000"/><rect x="291" y="192" width="1" height="1" fill="#560000"/><rect x="290" y="192" width="1" height="1" fill="#B03848"/><rect x="290" y="193" width="1" height="1" fill="#560000"/><rect x="190" y="202" width="20" height="1" fill="#4C4800"/><rect x="188" y="203" width="2" height="1" fill="#4C4800"/><rect x="210" y="203" width="2" height="1" fill="#4C4800"/><rect x="190" y="203" width="20" height="1" fill="#FFFF33"/><rect x="187" y="204" width="1" height="7" fill="#4C4800"/><rect x="188" y="204" width="24" height="1" fill="#F2EE58"/><rect x="188" y="205" width="24" height="1" fill="#E4E07A"/><rect x="188" y="206" width="24" height="1" fill="#D6D270"/><rect x="188" y="207" width="24" height="1" fill="#C4C060"/><rect x="188" y="208" width="24" height="1" fill="#B0AC50"/><rect x="188" y="209" width="24" height="1" fill="#9A9640"/><rect x="188" y="210" width="24" height="1" fill="#848030"/><rect x="212" y="204" width="1" height="7" fill="#4C4800"/><rect x="188" y="211" width="2" height="1" fill="#4C4800"/><rect x="210" y="211" width="2" height="1" fill="#4C4800"/><rect x="190" y="211" width="20" height="1" fill="#6E6A1C"/><rect x="190" y="212" width="20" height="1" fill="#4C4800"/><rect x="242" y="221" width="33" height="1" fill="#4C4800"/><rect x="240" y="222" width="2" height="1" fill="#4C4800"/><rect x="275" y="222" width="2" height="1" fill="#4C4800"/><rect x="242" y="222" width="33" height="1" fill="#FFFF33"/><rect x="239" y="223" width="1" height="7" fill="#4C4800"/><rect x="240" y="223" width="37" height="1" fill="#F2EE58"/><rect x="240" y="224" width="37" height="1" fill="#E4E07A"/><rect x="240" y="225" width="37" height="1" fill="#D6D270"/><rect x="240" y="226" width="37" height="1" fill="#C4C060"/><rect x="240" y="227" width="37" height="1" fill="#B0AC50"/><rect x="240" y="228" width="37" height="1" fill="#9A9640"/><rect x="240" y="229" width="37" height="1" fill="#848030"/><rect x="277" y="223" width="1" height="7" fill="#4C4800"/><rect x="240" y="230" width="2" height="1" fill="#4C4800"/><rect x="275" y="230" width="2" height="1" fill="#4C4800"/><rect x="242" y="230" width="33" height="1" fill="#6E6A1C"/><rect x="242" y="231" width="33" height="1" fill="#4C4800"/><rect x="281" y="240" width="7" height="1" fill="#4C4800"/><rect x="279" y="241" width="2" height="1" fill="#4C4800"/><rect x="288" y="241" width="2" height="1" fill="#4C4800"/><rect x="281" y="241" width="7" height="1" fill="#FFFF33"/><rect x="278" y="242" width="1" height="7" fill="#4C4800"/><rect x="279" y="242" width="11" height="1" fill="#F2EE58"/><rect x="279" y="243" width="11" height="1" fill="#E4E07A"/><rect x="279" y="244" width="11" height="1" fill="#D6D270"/><rect x="279" y="245" width="11" height="1" fill="#C4C060"/><rect x="279" y="246" width="11" height="1" fill="#B0AC50"/><rect x="279" y="247" width="11" height="1" fill="#9A9640"/><rect x="279" y="248" width="11" height="1" fill="#848030"/><rect x="290" y="242" width="1" height="7" fill="#4C4800"/><rect x="279" y="249" width="2" height="1" fill="#4C4800"/><rect x="288" y="249" width="2" height="1" fill="#4C4800"/><rect x="281" y="249" width="7" height="1" fill="#6E6A1C"/><rect x="281" y="250" width="7" height="1" fill="#4C4800"/><rect x="290" y="259" width="339" height="1" fill="#560000"/><rect x="290" y="260" width="339" height="1" fill="#FF4048"/><rect x="290" y="261" width="339" height="1" fill="#D05A62"/><rect x="290" y="262" width="339" height="1" fill="#A83E46"/><rect x="290" y="263" width="339" height="1" fill="#802028"/><rect x="290" y="264" width="339" height="1" fill="#560000"/><rect x="285" y="259" width="11" height="1" fill="#560000"/><rect x="285" y="260" width="1" height="1" fill="#560000"/><rect x="295" y="260" width="1" height="1" fill="#560000"/><rect x="286" y="260" width="9" height="1" fill="#FF2030"/><rect x="286" y="261" width="1" height="1" fill="#560000"/><rect x="294" y="261" width="1" height="1" fill="#560000"/><rect x="287" y="261" width="7" height="1" fill="#FF4452"/><rect x="286" y="262" width="1" height="1" fill="#560000"/><rect x="294" y="262" width="1" height="1" fill="#560000"/><rect x="287" y="262" width="7" height="1" fill="#F86068"/><rect x="287" y="263" width="1" height="1" fill="#560000"/><rect x="293" y="263" width="1" height="1" fill="#560000"/><rect x="288" y="263" width="5" height="1" fill="#F07078"/><rect x="287" y="264" width="1" height="1" fill="#560000"/><rect x="293" y="264" width="1" height="1" fill="#560000"/><rect x="288" y="264" width="5" height="1" fill="#E86870"/><rect x="288" y="265" width="1" height="1" fill="#560000"/><rect x="292" y="265" width="1" height="1" fill="#560000"/><rect x="289" y="265" width="3" height="1" fill="#DC5C66"/><rect x="288" y="266" width="1" height="1" fill="#560000"/><rect x="292" y="266" width="1" height="1" fill="#560000"/><rect x="289" y="266" width="3" height="1" fill="#D0525E"/><rect x="289" y="267" width="1" height="1" fill="#560000"/><rect x="291" y="267" width="1" height="1" fill="#560000"/><rect x="290" y="267" width="1" height="1" fill="#C04452"/><rect x="289" y="268" width="1" height="1" fill="#560000"/><rect x="291" y="268" width="1" height="1" fill="#560000"/><rect x="290" y="268" width="1" height="1" fill="#B03848"/><rect x="290" y="269" width="1" height="1" fill="#560000"/><rect x="623" y="259" width="11" height="1" fill="#560000"/><rect x="623" y="260" width="1" height="1" fill="#560000"/><rect x="633" y="260" width="1" height="1" fill="#560000"/><rect x="624" y="260" width="9" height="1" fill="#FF2030"/><rect x="624" y="261" width="1" height="1" fill="#560000"/><rect x="632" y="261" width="1" height="1" fill="#560000"/><rect x="625" y="261" width="7" height="1" fill="#FF4452"/><rect x="624" y="262" width="1" height="1" fill="#560000"/><rect x="632" y="262" width="1" height="1" fill="#560000"/><rect x="625" y="262" width="7" height="1" fill="#F86068"/><rect x="625" y="263" width="1" height="1" fill="#560000"/><rect x="631" y="263" width="1" height="1" fill="#560000"/><rect x="626" y="263" width="5" height="1" fill="#F07078"/><rect x="625" y="264" width="1" height="1" fill="#560000"/><rect x="631" y="264" width="1" height="1" fill="#560000"/><rect x="626" y="264" width="5" height="1" fill="#E86870"/><rect x="626" y="265" width="1" height="1" fill="#560000"/><rect x="630" y="265" width="1" height="1" fill="#560000"/><rect x="627" y="265" width="3" height="1" fill="#DC5C66"/><rect x="626" y="266" width="1" height="1" fill="#560000"/><rect x="630" y="266" width="1" height="1" fill="#560000"/><rect x="627" y="266" width="3" height="1" fill="#D0525E"/><rect x="627" y="267" width="1" height="1" fill="#560000"/><rect x="629" y="267" width="1" height="1" fill="#560000"/><rect x="628" y="267" width="1" height="1" fill="#C04452"/><rect x="627" y="268" width="1" height="1" fill="#560000"/><rect x="629" y="268" width="1" height="1" fill="#560000"/><rect x="628" y="268" width="1" height="1" fill="#B03848"/><rect x="628" y="269" width="1" height="1" fill="#560000"/><rect x="294" y="278" width="7" height="1" fill="#4C4800"/><rect x="292" y="279" width="2" height="1" fill="#4C4800"/><rect x="301" y="279" width="2" height="1" fill="#4C4800"/><rect x="294" y="279" width="7" height="1" fill="#FFFF33"/><rect x="291" y="280" width="1" height="7" fill="#4C4800"/><rect x="292" y="280" width="11" height="1" fill="#F2EE58"/><rect x="292" y="281" width="11" height="1" fill="#E4E07A"/><rect x="292" y="282" width="11" height="1" fill="#D6D270"/><rect x="292" y="283" width="11" height="1" fill="#C4C060"/><rect x="292" y="284" width="11" height="1" fill="#B0AC50"/><rect x="292" y="285" width="11" height="1" fill="#9A9640"/><rect x="292" y="286" width="11" height="1" fill="#848030"/><rect x="303" y="280" width="1" height="7" fill="#4C4800"/><rect x="292" y="287" width="2" height="1" fill="#4C4800"/><rect x="301" y="287" width="2" height="1" fill="#4C4800"/><rect x="294" y="287" width="7" height="1" fill="#6E6A1C"/><rect x="294" y="288" width="7" height="1" fill="#4C4800"/><rect x="333" y="297" width="7" height="1" fill="#4C4800"/><rect x="331" y="298" width="2" height="1" fill="#4C4800"/><rect x="340" y="298" width="2" height="1" fill="#4C4800"/><rect x="333" y="298" width="7" height="1" fill="#FFFF33"/><rect x="330" y="299" width="1" height="7" fill="#4C4800"/><rect x="331" y="299" width="11" height="1" fill="#F2EE58"/><rect x="331" y="300" width="11" height="1" fill="#E4E07A"/><rect x="331" y="301" width="11" height="1" fill="#D6D270"/><rect x="331" y="302" width="11" height="1" fill="#C4C060"/><rect x="331" y="303" width="11" height="1" fill="#B0AC50"/><rect x="331" y="304" width="11" height="1" fill="#9A9640"/><rect x="331" y="305" width="11" height="1" fill="#848030"/><rect x="342" y="299" width="1" height="7" fill="#4C4800"/><rect x="331" y="306" width="2" height="1" fill="#4C4800"/><rect x="340" y="306" width="2" height="1" fill="#4C4800"/><rect x="333" y="306" width="7" height="1" fill="#6E6A1C"/><rect x="333" y="307" width="7" height="1" fill="#4C4800"/><rect x="346" y="316" width="46" height="1" fill="#4C4800"/><rect x="344" y="317" width="2" height="1" fill="#4C4800"/><rect x="392" y="317" width="2" height="1" fill="#4C4800"/><rect x="346" y="317" width="46" height="1" fill="#FFFF33"/><rect x="343" y="318" width="1" height="7" fill="#4C4800"/><rect x="344" y="318" width="50" height="1" fill="#F2EE58"/><rect x="344" y="319" width="50" height="1" fill="#E4E07A"/><rect x="344" y="320" width="50" height="1" fill="#D6D270"/><rect x="344" y="321" width="50" height="1" fill="#C4C060"/><rect x="344" y="322" width="50" height="1" fill="#B0AC50"/><rect x="344" y="323" width="50" height="1" fill="#9A9640"/><rect x="344" y="324" width="50" height="1" fill="#848030"/><rect x="394" y="318" width="1" height="7" fill="#4C4800"/><rect x="344" y="325" width="2" height="1" fill="#4C4800"/><rect x="392" y="325" width="2" height="1" fill="#4C4800"/><rect x="346" y="325" width="46" height="1" fill="#6E6A1C"/><rect x="346" y="326" width="46" height="1" fill="#4C4800"/><rect x="450" y="335" width="98" height="1" fill="#4C4800"/><rect x="448" y="336" width="2" height="1" fill="#4C4800"/><rect x="548" y="336" width="2" height="1" fill="#4C4800"/><rect x="450" y="336" width="98" height="1" fill="#FFFF33"/><rect x="447" y="337" width="1" height="7" fill="#4C4800"/><rect x="448" y="337" width="102" height="1" fill="#F2EE58"/><rect x="448" y="338" width="102" height="1" fill="#E4E07A"/><rect x="448" y="339" width="102" height="1" fill="#D6D270"/><rect x="448" y="340" width="102" height="1" fill="#C4C060"/><rect x="448" y="341" width="102" height="1" fill="#B0AC50"/><rect x="448" y="342" width="102" height="1" fill="#9A9640"/><rect x="448" y="343" width="102" height="1" fill="#848030"/><rect x="550" y="337" width="1" height="7" fill="#4C4800"/><rect x="448" y="344" width="2" height="1" fill="#4C4800"/><rect x="548" y="344" width="2" height="1" fill="#4C4800"/><rect x="450" y="344" width="98" height="1" fill="#6E6A1C"/><rect x="450" y="345" width="98" height="1" fill="#4C4800"/><rect x="554" y="354" width="20" height="1" fill="#4C4800"/><rect x="552" y="355" width="2" height="1" fill="#4C4800"/><rect x="574" y="355" width="2" height="1" fill="#4C4800"/><rect x="554" y="355" width="20" height="1" fill="#FFFF33"/><rect x="551" y="356" width="1" height="7" fill="#4C4800"/><rect x="552" y="356" width="24" height="1" fill="#F2EE58"/><rect x="552" y="357" width="24" height="1" fill="#E4E07A"/><rect x="552" y="358" width="24" height="1" fill="#D6D270"/><rect x="552" y="359" width="24" height="1" fill="#C4C060"/><rect x="552" y="360" width="24" height="1" fill="#B0AC50"/><rect x="552" y="361" width="24" height="1" fill="#9A9640"/><rect x="552" y="362" width="24" height="1" fill="#848030"/><rect x="576" y="356" width="1" height="7" fill="#4C4800"/><rect x="552" y="363" width="2" height="1" fill="#4C4800"/><rect x="574" y="363" width="2" height="1" fill="#4C4800"/><rect x="554" y="363" width="20" height="1" fill="#6E6A1C"/><rect x="554" y="364" width="20" height="1" fill="#4C4800"/><rect x="606" y="373" width="20" height="1" fill="#4C4800"/><rect x="604" y="374" width="2" height="1" fill="#4C4800"/><rect x="626" y="374" width="2" height="1" fill="#4C4800"/><rect x="606" y="374" width="20" height="1" fill="#FFFF33"/><rect x="603" y="375" width="1" height="7" fill="#4C4800"/><rect x="604" y="375" width="24" height="1" fill="#F2EE58"/><rect x="604" y="376" width="24" height="1" fill="#E4E07A"/><rect x="604" y="377" width="24" height="1" fill="#D6D270"/><rect x="604" y="378" width="24" height="1" fill="#C4C060"/><rect x="604" y="379" width="24" height="1" fill="#B0AC50"/><rect x="604" y="380" width="24" height="1" fill="#9A9640"/><rect x="604" y="381" width="24" height="1" fill="#848030"/><rect x="628" y="375" width="1" height="7" fill="#4C4800"/><rect x="604" y="382" width="2" height="1" fill="#4C4800"/><rect x="626" y="382" width="2" height="1" fill="#4C4800"/><rect x="606" y="382" width="20" height="1" fill="#6E6A1C"/><rect x="606" y="383" width="20" height="1" fill="#4C4800"/><rect x="628" y="392" width="79" height="1" fill="#560000"/><rect x="628" y="393" width="79" height="1" fill="#FF4048"/><rect x="628" y="394" width="79" height="1" fill="#D05A62"/><rect x="628" y="395" width="79" height="1" fill="#A83E46"/><rect x="628" y="396" width="79" height="1" fill="#802028"/><rect x="628" y="397" width="79" height="1" fill="#560000"/><rect x="623" y="392" width="11" height="1" fill="#560000"/><rect x="623" y="393" width="1" height="1" fill="#560000"/><rect x="633" y="393" width="1" height="1" fill="#560000"/><rect x="624" y="393" width="9" height="1" fill="#FF2030"/><rect x="624" y="394" width="1" height="1" fill="#560000"/><rect x="632" y="394" width="1" height="1" fill="#560000"/><rect x="625" y="394" width="7" height="1" fill="#FF4452"/><rect x="624" y="395" width="1" height="1" fill="#560000"/><rect x="632" y="395" width="1" height="1" fill="#560000"/><rect x="625" y="395" width="7" height="1" fill="#F86068"/><rect x="625" y="396" width="1" height="1" fill="#560000"/><rect x="631" y="396" width="1" height="1" fill="#560000"/><rect x="626" y="396" width="5" height="1" fill="#F07078"/><rect x="625" y="397" width="1" height="1" fill="#560000"/><rect x="631" y="397" width="1" height="1" fill="#560000"/><rect x="626" y="397" width="5" height="1" fill="#E86870"/><rect x="626" y="398" width="1" height="1" fill="#560000"/><rect x="630" y="398" width="1" height="1" fill="#560000"/><rect x="627" y="398" width="3" height="1" fill="#DC5C66"/><rect x="626" y="399" width="1" height="1" fill="#560000"/><rect x="630" y="399" width="1" height="1" fill="#560000"/><rect x="627" y="399" width="3" height="1" fill="#D0525E"/><rect x="627" y="400" width="1" height="1" fill="#560000"/><rect x="629" y="400" width="1" height="1" fill="#560000"/><rect x="628" y="400" width="1" height="1" fill="#C04452"/><rect x="627" y="401" width="1" height="1" fill="#560000"/><rect x="629" y="401" width="1" height="1" fill="#560000"/><rect x="628" y="401" width="1" height="1" fill="#B03848"/><rect x="628" y="402" width="1" height="1" fill="#560000"/><rect x="701" y="392" width="11" height="1" fill="#560000"/><rect x="701" y="393" width="1" height="1" fill="#560000"/><rect x="711" y="393" width="1" height="1" fill="#560000"/><rect x="702" y="393" width="9" height="1" fill="#FF2030"/><rect x="702" y="394" width="1" height="1" fill="#560000"/><rect x="710" y="394" width="1" height="1" fill="#560000"/><rect x="703" y="394" width="7" height="1" fill="#FF4452"/><rect x="702" y="395" width="1" height="1" fill="#560000"/><rect x="710" y="395" width="1" height="1" fill="#560000"/><rect x="703" y="395" width="7" height="1" fill="#F86068"/><rect x="703" y="396" width="1" height="1" fill="#560000"/><rect x="709" y="396" width="1" height="1" fill="#560000"/><rect x="704" y="396" width="5" height="1" fill="#F07078"/><rect x="703" y="397" width="1" height="1" fill="#560000"/><rect x="709" y="397" width="1" height="1" fill="#560000"/><rect x="704" y="397" width="5" height="1" fill="#E86870"/><rect x="704" y="398" width="1" height="1" fill="#560000"/><rect x="708" y="398" width="1" height="1" fill="#560000"/><rect x="705" y="398" width="3" height="1" fill="#DC5C66"/><rect x="704" y="399" width="1" height="1" fill="#560000"/><rect x="708" y="399" width="1" height="1" fill="#560000"/><rect x="705" y="399" width="3" height="1" fill="#D0525E"/><rect x="705" y="400" width="1" height="1" fill="#560000"/><rect x="707" y="400" width="1" height="1" fill="#560000"/><rect x="706" y="400" width="1" height="1" fill="#C04452"/><rect x="705" y="401" width="1" height="1" fill="#560000"/><rect x="707" y="401" width="1" height="1" fill="#560000"/><rect x="706" y="401" width="1" height="1" fill="#B03848"/><rect x="706" y="402" width="1" height="1" fill="#560000"/><rect x="632" y="411" width="20" height="1" fill="#4C4800"/><rect x="630" y="412" width="2" height="1" fill="#4C4800"/><rect x="652" y="412" width="2" height="1" fill="#4C4800"/><rect x="632" y="412" width="20" height="1" fill="#FFFF33"/><rect x="629" y="413" width="1" height="7" fill="#4C4800"/><rect x="630" y="413" width="24" height="1" fill="#F2EE58"/><rect x="630" y="414" width="24" height="1" fill="#E4E07A"/><rect x="630" y="415" width="24" height="1" fill="#D6D270"/><rect x="630" y="416" width="24" height="1" fill="#C4C060"/><rect x="630" y="417" width="24" height="1" fill="#B0AC50"/><rect x="630" y="418" width="24" height="1" fill="#9A9640"/><rect x="630" y="419" width="24" height="1" fill="#848030"/><rect x="654" y="413" width="1" height="7" fill="#4C4800"/><rect x="630" y="420" width="2" height="1" fill="#4C4800"/><rect x="652" y="420" width="2" height="1" fill="#4C4800"/><rect x="632" y="420" width="20" height="1" fill="#6E6A1C"/><rect x="632" y="421" width="20" height="1" fill="#4C4800"/><rect x="658" y="430" width="7" height="1" fill="#4C4800"/><rect x="656" y="431" width="2" height="1" fill="#4C4800"/><rect x="665" y="431" width="2" height="1" fill="#4C4800"/><rect x="658" y="431" width="7" height="1" fill="#FFFF33"/><rect x="655" y="432" width="1" height="7" fill="#4C4800"/><rect x="656" y="432" width="11" height="1" fill="#F2EE58"/><rect x="656" y="433" width="11" height="1" fill="#E4E07A"/><rect x="656" y="434" width="11" height="1" fill="#D6D270"/><rect x="656" y="435" width="11" height="1" fill="#C4C060"/><rect x="656" y="436" width="11" height="1" fill="#B0AC50"/><rect x="656" y="437" width="11" height="1" fill="#9A9640"/><rect x="656" y="438" width="11" height="1" fill="#848030"/><rect x="667" y="432" width="1" height="7" fill="#4C4800"/><rect x="656" y="439" width="2" height="1" fill="#4C4800"/><rect x="665" y="439" width="2" height="1" fill="#4C4800"/><rect x="658" y="439" width="7" height="1" fill="#6E6A1C"/><rect x="658" y="440" width="7" height="1" fill="#4C4800"/><rect x="697" y="449" width="7" height="1" fill="#4C4800"/><rect x="695" y="450" width="2" height="1" fill="#4C4800"/><rect x="704" y="450" width="2" height="1" fill="#4C4800"/><rect x="697" y="450" width="7" height="1" fill="#FFFF33"/><rect x="694" y="451" width="1" height="7" fill="#4C4800"/><rect x="695" y="451" width="11" height="1" fill="#F2EE58"/><rect x="695" y="452" width="11" height="1" fill="#E4E07A"/><rect x="695" y="453" width="11" height="1" fill="#D6D270"/><rect x="695" y="454" width="11" height="1" fill="#C4C060"/><rect x="695" y="455" width="11" height="1" fill="#B0AC50"/><rect x="695" y="456" width="11" height="1" fill="#9A9640"/><rect x="695" y="457" width="11" height="1" fill="#848030"/><rect x="706" y="451" width="1" height="7" fill="#4C4800"/><rect x="695" y="458" width="2" height="1" fill="#4C4800"/><rect x="704" y="458" width="2" height="1" fill="#4C4800"/><rect x="697" y="458" width="7" height="1" fill="#6E6A1C"/><rect x="697" y="459" width="7" height="1" fill="#4C4800"/><rect x="706" y="468" width="1" height="1" fill="#00005A"/><rect x="706" y="469" width="1" height="1" fill="#00005A"/><rect x="705" y="470" width="1" height="1" fill="#00005A"/><rect x="706" y="470" width="1" height="1" fill="#6262E2"/><rect x="707" y="470" width="1" height="1" fill="#00005A"/><rect x="701" y="471" width="4" height="1" fill="#00005A"/><rect x="705" y="471" width="3" height="1" fill="#6262E2"/><rect x="708" y="471" width="4" height="1" fill="#00005A"/><rect x="702" y="472" width="2" height="1" fill="#00005A"/><rect x="704" y="472" width="5" height="1" fill="#6262E2"/><rect x="709" y="472" width="2" height="1" fill="#00005A"/><rect x="703" y="473" width="2" height="1" fill="#00005A"/><rect x="705" y="473" width="3" height="1" fill="#6262E2"/><rect x="708" y="473" width="2" height="1" fill="#00005A"/><rect x="703" y="474" width="1" height="1" fill="#00005A"/><rect x="704" y="474" width="5" height="1" fill="#6262E2"/><rect x="709" y="474" width="1" height="1" fill="#00005A"/><rect x="703" y="475" width="1" height="1" fill="#00005A"/><rect x="704" y="475" width="2" height="1" fill="#6262E2"/><rect x="706" y="475" width="1" height="1" fill="#00005A"/><rect x="707" y="475" width="2" height="1" fill="#6262E2"/><rect x="709" y="475" width="1" height="1" fill="#00005A"/><rect x="702" y="476" width="2" height="1" fill="#00005A"/><rect x="705" y="476" width="3" height="1" fill="#00005A"/><rect x="709" y="476" width="2" height="1" fill="#00005A"/><rect x="702" y="477" width="1" height="1" fill="#00005A"/><rect x="710" y="477" width="1" height="1" fill="#00005A"/><rect x="702" y="478" width="1" height="1" fill="#00005A"/><rect x="710" y="478" width="1" height="1" fill="#00005A"/><rect x="25" y="54" width="1" height="1" fill="#600000"/><rect x="22" y="53" width="3" height="1" fill="#600000"/><rect x="25" y="63" width="1" height="1" fill="#600000"/><rect x="26" y="55" width="1" height="8" fill="#600000"/><rect x="3" y="65" width="1" height="1" fill="#600000"/><rect x="4" y="64" width="21" height="1" fill="#600000"/><rect x="3" y="89" width="1" height="1" fill="#600000"/><rect x="2" y="66" width="1" height="23" fill="#600000"/><rect x="4" y="90" width="3" height="1" fill="#600000"/><rect x="7" y="86" width="1" height="9" fill="#600000"/><rect x="8" y="87" width="1" height="1" fill="#600000"/><rect x="8" y="93" width="1" height="1" fill="#600000"/><rect x="8" y="88" width="1" height="5" fill="#8C0010"/><rect x="9" y="88" width="1" height="1" fill="#600000"/><rect x="9" y="92" width="1" height="1" fill="#600000"/><rect x="9" y="89" width="1" height="3" fill="#8C0010"/><rect x="10" y="89" width="1" height="1" fill="#600000"/><rect x="10" y="91" width="1" height="1" fill="#600000"/><rect x="10" y="90" width="1" height="1" fill="#8C0010"/><rect x="11" y="90" width="1" height="1" fill="#600000"/><rect x="21" y="75" width="1" height="1" fill="#6E6800"/><rect x="18" y="74" width="3" height="1" fill="#6E6800"/><rect x="22" y="76" width="1" height="7" fill="#6E6800"/><rect x="18" y="83" width="9" height="1" fill="#4C4800"/><rect x="19" y="84" width="1" height="1" fill="#4C4800"/><rect x="25" y="84" width="1" height="1" fill="#4C4800"/><rect x="20" y="84" width="5" height="1" fill="#8A8200"/><rect x="20" y="85" width="1" height="1" fill="#4C4800"/><rect x="24" y="85" width="1" height="1" fill="#4C4800"/><rect x="21" y="85" width="3" height="1" fill="#8A8200"/><rect x="21" y="86" width="1" height="1" fill="#4C4800"/><rect x="23" y="86" width="1" height="1" fill="#4C4800"/><rect x="22" y="86" width="1" height="1" fill="#8A8200"/><rect x="22" y="87" width="1" height="1" fill="#4C4800"/><rect x="194" y="92" width="1" height="1" fill="#600000"/><rect x="191" y="91" width="3" height="1" fill="#600000"/><rect x="194" y="101" width="1" height="1" fill="#600000"/><rect x="195" y="93" width="1" height="8" fill="#600000"/><rect x="172" y="103" width="1" height="1" fill="#600000"/><rect x="173" y="102" width="21" height="1" fill="#600000"/><rect x="172" y="184" width="1" height="1" fill="#600000"/><rect x="171" y="104" width="1" height="80" fill="#600000"/><rect x="173" y="185" width="3" height="1" fill="#600000"/><rect x="176" y="181" width="1" height="9" fill="#600000"/><rect x="177" y="182" width="1" height="1" fill="#600000"/><rect x="177" y="188" width="1" height="1" fill="#600000"/><rect x="177" y="183" width="1" height="5" fill="#8C0010"/><rect x="178" y="183" width="1" height="1" fill="#600000"/><rect x="178" y="187" width="1" height="1" fill="#600000"/><rect x="178" y="184" width="1" height="3" fill="#8C0010"/><rect x="179" y="184" width="1" height="1" fill="#600000"/><rect x="179" y="186" width="1" height="1" fill="#600000"/><rect x="179" y="185" width="1" height="1" fill="#8C0010"/><rect x="180" y="185" width="1" height="1" fill="#600000"/><rect x="73" y="113" width="1" height="1" fill="#6E6800"/><rect x="70" y="112" width="3" height="1" fill="#6E6800"/><rect x="74" y="114" width="1" height="7" fill="#6E6800"/><rect x="70" y="121" width="9" height="1" fill="#4C4800"/><rect x="71" y="122" width="1" height="1" fill="#4C4800"/><rect x="77" y="122" width="1" height="1" fill="#4C4800"/><rect x="72" y="122" width="5" height="1" fill="#8A8200"/><rect x="72" y="123" width="1" height="1" fill="#4C4800"/><rect x="76" y="123" width="1" height="1" fill="#4C4800"/><rect x="73" y="123" width="3" height="1" fill="#8A8200"/><rect x="73" y="124" width="1" height="1" fill="#4C4800"/><rect x="75" y="124" width="1" height="1" fill="#4C4800"/><rect x="74" y="124" width="1" height="1" fill="#8A8200"/><rect x="74" y="125" width="1" height="1" fill="#4C4800"/><rect x="112" y="132" width="1" height="1" fill="#6E6800"/><rect x="109" y="131" width="3" height="1" fill="#6E6800"/><rect x="113" y="133" width="1" height="7" fill="#6E6800"/><rect x="109" y="140" width="9" height="1" fill="#4C4800"/><rect x="110" y="141" width="1" height="1" fill="#4C4800"/><rect x="116" y="141" width="1" height="1" fill="#4C4800"/><rect x="111" y="141" width="5" height="1" fill="#8A8200"/><rect x="111" y="142" width="1" height="1" fill="#4C4800"/><rect x="115" y="142" width="1" height="1" fill="#4C4800"/><rect x="112" y="142" width="3" height="1" fill="#8A8200"/><rect x="112" y="143" width="1" height="1" fill="#4C4800"/><rect x="114" y="143" width="1" height="1" fill="#4C4800"/><rect x="113" y="143" width="1" height="1" fill="#8A8200"/><rect x="113" y="144" width="1" height="1" fill="#4C4800"/><rect x="147" y="151" width="1" height="1" fill="#6E6800"/><rect x="122" y="150" width="25" height="1" fill="#6E6800"/><rect x="148" y="152" width="1" height="7" fill="#6E6800"/><rect x="144" y="159" width="9" height="1" fill="#4C4800"/><rect x="145" y="160" width="1" height="1" fill="#4C4800"/><rect x="151" y="160" width="1" height="1" fill="#4C4800"/><rect x="146" y="160" width="5" height="1" fill="#8A8200"/><rect x="146" y="161" width="1" height="1" fill="#4C4800"/><rect x="150" y="161" width="1" height="1" fill="#4C4800"/><rect x="147" y="161" width="3" height="1" fill="#8A8200"/><rect x="147" y="162" width="1" height="1" fill="#4C4800"/><rect x="149" y="162" width="1" height="1" fill="#4C4800"/><rect x="148" y="162" width="1" height="1" fill="#8A8200"/><rect x="148" y="163" width="1" height="1" fill="#4C4800"/><rect x="190" y="170" width="1" height="1" fill="#6E6800"/><rect x="187" y="169" width="3" height="1" fill="#6E6800"/><rect x="191" y="171" width="1" height="7" fill="#6E6800"/><rect x="187" y="178" width="9" height="1" fill="#4C4800"/><rect x="188" y="179" width="1" height="1" fill="#4C4800"/><rect x="194" y="179" width="1" height="1" fill="#4C4800"/><rect x="189" y="179" width="5" height="1" fill="#8A8200"/><rect x="189" y="180" width="1" height="1" fill="#4C4800"/><rect x="193" y="180" width="1" height="1" fill="#4C4800"/><rect x="190" y="180" width="3" height="1" fill="#8A8200"/><rect x="190" y="181" width="1" height="1" fill="#4C4800"/><rect x="192" y="181" width="1" height="1" fill="#4C4800"/><rect x="191" y="181" width="1" height="1" fill="#8A8200"/><rect x="191" y="182" width="1" height="1" fill="#4C4800"/><rect x="238" y="208" width="1" height="1" fill="#6E6800"/><rect x="213" y="207" width="25" height="1" fill="#6E6800"/><rect x="239" y="209" width="1" height="7" fill="#6E6800"/><rect x="235" y="216" width="9" height="1" fill="#4C4800"/><rect x="236" y="217" width="1" height="1" fill="#4C4800"/><rect x="242" y="217" width="1" height="1" fill="#4C4800"/><rect x="237" y="217" width="5" height="1" fill="#8A8200"/><rect x="237" y="218" width="1" height="1" fill="#4C4800"/><rect x="241" y="218" width="1" height="1" fill="#4C4800"/><rect x="238" y="218" width="3" height="1" fill="#8A8200"/><rect x="238" y="219" width="1" height="1" fill="#4C4800"/><rect x="240" y="219" width="1" height="1" fill="#4C4800"/><rect x="239" y="219" width="1" height="1" fill="#8A8200"/><rect x="239" y="220" width="1" height="1" fill="#4C4800"/><rect x="281" y="227" width="1" height="1" fill="#6E6800"/><rect x="278" y="226" width="3" height="1" fill="#6E6800"/><rect x="282" y="228" width="1" height="7" fill="#6E6800"/><rect x="278" y="235" width="9" height="1" fill="#4C4800"/><rect x="279" y="236" width="1" height="1" fill="#4C4800"/><rect x="285" y="236" width="1" height="1" fill="#4C4800"/><rect x="280" y="236" width="5" height="1" fill="#8A8200"/><rect x="280" y="237" width="1" height="1" fill="#4C4800"/><rect x="284" y="237" width="1" height="1" fill="#4C4800"/><rect x="281" y="237" width="3" height="1" fill="#8A8200"/><rect x="281" y="238" width="1" height="1" fill="#4C4800"/><rect x="283" y="238" width="1" height="1" fill="#4C4800"/><rect x="282" y="238" width="1" height="1" fill="#8A8200"/><rect x="282" y="239" width="1" height="1" fill="#4C4800"/><rect x="294" y="246" width="1" height="1" fill="#6E6800"/><rect x="291" y="245" width="3" height="1" fill="#6E6800"/><rect x="295" y="247" width="1" height="7" fill="#6E6800"/><rect x="291" y="254" width="9" height="1" fill="#4C4800"/><rect x="292" y="255" width="1" height="1" fill="#4C4800"/><rect x="298" y="255" width="1" height="1" fill="#4C4800"/><rect x="293" y="255" width="5" height="1" fill="#8A8200"/><rect x="293" y="256" width="1" height="1" fill="#4C4800"/><rect x="297" y="256" width="1" height="1" fill="#4C4800"/><rect x="294" y="256" width="3" height="1" fill="#8A8200"/><rect x="294" y="257" width="1" height="1" fill="#4C4800"/><rect x="296" y="257" width="1" height="1" fill="#4C4800"/><rect x="295" y="257" width="1" height="1" fill="#8A8200"/><rect x="295" y="258" width="1" height="1" fill="#4C4800"/><rect x="298" y="187" width="1" height="1" fill="#600000"/><rect x="295" y="186" width="3" height="1" fill="#600000"/><rect x="298" y="196" width="1" height="1" fill="#600000"/><rect x="299" y="188" width="1" height="8" fill="#600000"/><rect x="276" y="198" width="1" height="1" fill="#600000"/><rect x="277" y="197" width="21" height="1" fill="#600000"/><rect x="276" y="260" width="1" height="1" fill="#600000"/><rect x="275" y="199" width="1" height="61" fill="#600000"/><rect x="277" y="261" width="3" height="1" fill="#600000"/><rect x="280" y="257" width="1" height="9" fill="#600000"/><rect x="281" y="258" width="1" height="1" fill="#600000"/><rect x="281" y="264" width="1" height="1" fill="#600000"/><rect x="281" y="259" width="1" height="5" fill="#8C0010"/><rect x="282" y="259" width="1" height="1" fill="#600000"/><rect x="282" y="263" width="1" height="1" fill="#600000"/><rect x="282" y="260" width="1" height="3" fill="#8C0010"/><rect x="283" y="260" width="1" height="1" fill="#600000"/><rect x="283" y="262" width="1" height="1" fill="#600000"/><rect x="283" y="261" width="1" height="1" fill="#8C0010"/><rect x="284" y="261" width="1" height="1" fill="#600000"/><rect x="329" y="284" width="1" height="1" fill="#6E6800"/><rect x="304" y="283" width="25" height="1" fill="#6E6800"/><rect x="330" y="285" width="1" height="7" fill="#6E6800"/><rect x="326" y="292" width="9" height="1" fill="#4C4800"/><rect x="327" y="293" width="1" height="1" fill="#4C4800"/><rect x="333" y="293" width="1" height="1" fill="#4C4800"/><rect x="328" y="293" width="5" height="1" fill="#8A8200"/><rect x="328" y="294" width="1" height="1" fill="#4C4800"/><rect x="332" y="294" width="1" height="1" fill="#4C4800"/><rect x="329" y="294" width="3" height="1" fill="#8A8200"/><rect x="329" y="295" width="1" height="1" fill="#4C4800"/><rect x="331" y="295" width="1" height="1" fill="#4C4800"/><rect x="330" y="295" width="1" height="1" fill="#8A8200"/><rect x="330" y="296" width="1" height="1" fill="#4C4800"/><rect x="346" y="303" width="1" height="1" fill="#6E6800"/><rect x="343" y="302" width="3" height="1" fill="#6E6800"/><rect x="347" y="304" width="1" height="7" fill="#6E6800"/><rect x="343" y="311" width="9" height="1" fill="#4C4800"/><rect x="344" y="312" width="1" height="1" fill="#4C4800"/><rect x="350" y="312" width="1" height="1" fill="#4C4800"/><rect x="345" y="312" width="5" height="1" fill="#8A8200"/><rect x="345" y="313" width="1" height="1" fill="#4C4800"/><rect x="349" y="313" width="1" height="1" fill="#4C4800"/><rect x="346" y="313" width="3" height="1" fill="#8A8200"/><rect x="346" y="314" width="1" height="1" fill="#4C4800"/><rect x="348" y="314" width="1" height="1" fill="#4C4800"/><rect x="347" y="314" width="1" height="1" fill="#8A8200"/><rect x="347" y="315" width="1" height="1" fill="#4C4800"/><rect x="446" y="322" width="1" height="1" fill="#6E6800"/><rect x="395" y="321" width="51" height="1" fill="#6E6800"/><rect x="447" y="323" width="1" height="7" fill="#6E6800"/><rect x="443" y="330" width="9" height="1" fill="#4C4800"/><rect x="444" y="331" width="1" height="1" fill="#4C4800"/><rect x="450" y="331" width="1" height="1" fill="#4C4800"/><rect x="445" y="331" width="5" height="1" fill="#8A8200"/><rect x="445" y="332" width="1" height="1" fill="#4C4800"/><rect x="449" y="332" width="1" height="1" fill="#4C4800"/><rect x="446" y="332" width="3" height="1" fill="#8A8200"/><rect x="446" y="333" width="1" height="1" fill="#4C4800"/><rect x="448" y="333" width="1" height="1" fill="#4C4800"/><rect x="447" y="333" width="1" height="1" fill="#8A8200"/><rect x="447" y="334" width="1" height="1" fill="#4C4800"/><rect x="554" y="341" width="1" height="1" fill="#6E6800"/><rect x="551" y="340" width="3" height="1" fill="#6E6800"/><rect x="555" y="342" width="1" height="7" fill="#6E6800"/><rect x="551" y="349" width="9" height="1" fill="#4C4800"/><rect x="552" y="350" width="1" height="1" fill="#4C4800"/><rect x="558" y="350" width="1" height="1" fill="#4C4800"/><rect x="553" y="350" width="5" height="1" fill="#8A8200"/><rect x="553" y="351" width="1" height="1" fill="#4C4800"/><rect x="557" y="351" width="1" height="1" fill="#4C4800"/><rect x="554" y="351" width="3" height="1" fill="#8A8200"/><rect x="554" y="352" width="1" height="1" fill="#4C4800"/><rect x="556" y="352" width="1" height="1" fill="#4C4800"/><rect x="555" y="352" width="1" height="1" fill="#8A8200"/><rect x="555" y="353" width="1" height="1" fill="#4C4800"/><rect x="602" y="360" width="1" height="1" fill="#6E6800"/><rect x="577" y="359" width="25" height="1" fill="#6E6800"/><rect x="603" y="361" width="1" height="7" fill="#6E6800"/><rect x="599" y="368" width="9" height="1" fill="#4C4800"/><rect x="600" y="369" width="1" height="1" fill="#4C4800"/><rect x="606" y="369" width="1" height="1" fill="#4C4800"/><rect x="601" y="369" width="5" height="1" fill="#8A8200"/><rect x="601" y="370" width="1" height="1" fill="#4C4800"/><rect x="605" y="370" width="1" height="1" fill="#4C4800"/><rect x="602" y="370" width="3" height="1" fill="#8A8200"/><rect x="602" y="371" width="1" height="1" fill="#4C4800"/><rect x="604" y="371" width="1" height="1" fill="#4C4800"/><rect x="603" y="371" width="1" height="1" fill="#8A8200"/><rect x="603" y="372" width="1" height="1" fill="#4C4800"/><rect x="632" y="379" width="1" height="1" fill="#6E6800"/><rect x="629" y="378" width="3" height="1" fill="#6E6800"/><rect x="633" y="380" width="1" height="7" fill="#6E6800"/><rect x="629" y="387" width="9" height="1" fill="#4C4800"/><rect x="630" y="388" width="1" height="1" fill="#4C4800"/><rect x="636" y="388" width="1" height="1" fill="#4C4800"/><rect x="631" y="388" width="5" height="1" fill="#8A8200"/><rect x="631" y="389" width="1" height="1" fill="#4C4800"/><rect x="635" y="389" width="1" height="1" fill="#4C4800"/><rect x="632" y="389" width="3" height="1" fill="#8A8200"/><rect x="632" y="390" width="1" height="1" fill="#4C4800"/><rect x="634" y="390" width="1" height="1" fill="#4C4800"/><rect x="633" y="390" width="1" height="1" fill="#8A8200"/><rect x="633" y="391" width="1" height="1" fill="#4C4800"/><rect x="636" y="263" width="1" height="1" fill="#600000"/><rect x="633" y="262" width="3" height="1" fill="#600000"/><rect x="636" y="272" width="1" height="1" fill="#600000"/><rect x="637" y="264" width="1" height="8" fill="#600000"/><rect x="614" y="274" width="1" height="1" fill="#600000"/><rect x="615" y="273" width="21" height="1" fill="#600000"/><rect x="614" y="393" width="1" height="1" fill="#600000"/><rect x="613" y="275" width="1" height="118" fill="#600000"/><rect x="615" y="394" width="3" height="1" fill="#600000"/><rect x="618" y="390" width="1" height="9" fill="#600000"/><rect x="619" y="391" width="1" height="1" fill="#600000"/><rect x="619" y="397" width="1" height="1" fill="#600000"/><rect x="619" y="392" width="1" height="5" fill="#8C0010"/><rect x="620" y="392" width="1" height="1" fill="#600000"/><rect x="620" y="396" width="1" height="1" fill="#600000"/><rect x="620" y="393" width="1" height="3" fill="#8C0010"/><rect x="621" y="393" width="1" height="1" fill="#600000"/><rect x="621" y="395" width="1" height="1" fill="#600000"/><rect x="621" y="394" width="1" height="1" fill="#8C0010"/><rect x="622" y="394" width="1" height="1" fill="#600000"/><rect x="658" y="417" width="1" height="1" fill="#6E6800"/><rect x="655" y="416" width="3" height="1" fill="#6E6800"/><rect x="659" y="418" width="1" height="7" fill="#6E6800"/><rect x="655" y="425" width="9" height="1" fill="#4C4800"/><rect x="656" y="426" width="1" height="1" fill="#4C4800"/><rect x="662" y="426" width="1" height="1" fill="#4C4800"/><rect x="657" y="426" width="5" height="1" fill="#8A8200"/><rect x="657" y="427" width="1" height="1" fill="#4C4800"/><rect x="661" y="427" width="1" height="1" fill="#4C4800"/><rect x="658" y="427" width="3" height="1" fill="#8A8200"/><rect x="658" y="428" width="1" height="1" fill="#4C4800"/><rect x="660" y="428" width="1" height="1" fill="#4C4800"/><rect x="659" y="428" width="1" height="1" fill="#8A8200"/><rect x="659" y="429" width="1" height="1" fill="#4C4800"/><rect x="693" y="436" width="1" height="1" fill="#6E6800"/><rect x="668" y="435" width="25" height="1" fill="#6E6800"/><rect x="694" y="437" width="1" height="7" fill="#6E6800"/><rect x="690" y="444" width="9" height="1" fill="#4C4800"/><rect x="691" y="445" width="1" height="1" fill="#4C4800"/><rect x="697" y="445" width="1" height="1" fill="#4C4800"/><rect x="692" y="445" width="5" height="1" fill="#8A8200"/><rect x="692" y="446" width="1" height="1" fill="#4C4800"/><rect x="696" y="446" width="1" height="1" fill="#4C4800"/><rect x="693" y="446" width="3" height="1" fill="#8A8200"/><rect x="693" y="447" width="1" height="1" fill="#4C4800"/><rect x="695" y="447" width="1" height="1" fill="#4C4800"/><rect x="694" y="447" width="1" height="1" fill="#8A8200"/><rect x="694" y="448" width="1" height="1" fill="#4C4800"/><rect x="710" y="455" width="1" height="1" fill="#6E6800"/><rect x="707" y="454" width="3" height="1" fill="#6E6800"/><rect x="711" y="456" width="1" height="8" fill="#6E6800"/><rect x="707" y="464" width="9" height="1" fill="#4C4800"/><rect x="708" y="465" width="1" height="1" fill="#4C4800"/><rect x="714" y="465" width="1" height="1" fill="#4C4800"/><rect x="709" y="465" width="5" height="1" fill="#8A8200"/><rect x="709" y="466" width="1" height="1" fill="#4C4800"/><rect x="713" y="466" width="1" height="1" fill="#4C4800"/><rect x="710" y="466" width="3" height="1" fill="#8A8200"/><rect x="710" y="467" width="1" height="1" fill="#4C4800"/><rect x="712" y="467" width="1" height="1" fill="#4C4800"/><rect x="711" y="467" width="1" height="1" fill="#8A8200"/><rect x="711" y="468" width="1" height="1" fill="#4C4800"/><rect x="714" y="396" width="1" height="1" fill="#600000"/><rect x="711" y="395" width="3" height="1" fill="#600000"/><rect x="714" y="405" width="1" height="1" fill="#600000"/><rect x="715" y="397" width="1" height="8" fill="#600000"/><rect x="692" y="407" width="1" height="1" fill="#600000"/><rect x="693" y="406" width="21" height="1" fill="#600000"/><rect x="692" y="472" width="1" height="1" fill="#600000"/><rect x="691" y="408" width="1" height="64" fill="#600000"/><rect x="693" y="473" width="3" height="1" fill="#600000"/><rect x="696" y="469" width="1" height="9" fill="#600000"/><rect x="697" y="470" width="1" height="1" fill="#600000"/><rect x="697" y="476" width="1" height="1" fill="#600000"/><rect x="697" y="471" width="1" height="5" fill="#8C0010"/><rect x="698" y="471" width="1" height="1" fill="#600000"/><rect x="698" y="475" width="1" height="1" fill="#600000"/><rect x="698" y="472" width="1" height="3" fill="#8C0010"/><rect x="699" y="472" width="1" height="1" fill="#600000"/><rect x="699" y="474" width="1" height="1" fill="#600000"/><rect x="699" y="473" width="1" height="1" fill="#8C0010"/><rect x="700" y="473" width="1" height="1" fill="#600000"/><rect x="576" y="27" width="1" height="457" fill="url(#dotc)"/></g>
<g></g>
</svg>
</body></html>
